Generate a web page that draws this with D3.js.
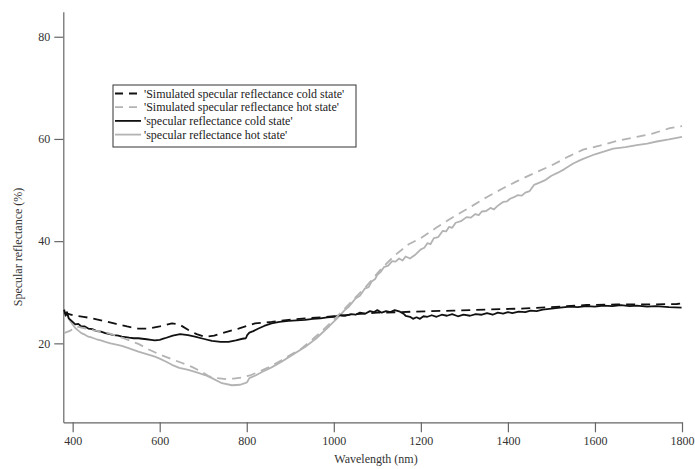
<!DOCTYPE html>
<html>
<head>
<meta charset="utf-8">
<script src="https://cdn.jsdelivr.net/npm/d3@7"></script>
<style>
  body { margin: 0; background: #fff; }
  svg text { font-family: "Liberation Serif", "Times New Roman", serif; }
</style>
</head>
<body>
<div id="chart"></div>
<script>
// wavelength (nm) / reflectance (%)
const simColdNm  = [380, 400, 425, 450, 475, 500, 525, 550, 575, 600, 628, 645, 666, 685, 704, 725, 743, 760, 781, 800, 819, 857, 896, 934, 970, 1000, 1050, 1100, 1150, 1182, 1274, 1350, 1428, 1500, 1581, 1650, 1700, 1788, 1800];
const simColdVal = [26.0, 25.5, 25.2, 24.8, 24.3, 23.8, 23.3, 22.9, 22.9, 23.3, 23.9, 23.7, 22.6, 21.8, 21.3, 21.5, 22.0, 22.4, 22.9, 23.4, 23.9, 24.2, 24.6, 24.9, 25.1, 25.3, 25.7, 26.0, 26.1, 26.2, 26.4, 26.6, 26.8, 27.1, 27.5, 27.6, 27.6, 27.7, 27.8];

const simHotNm  = [380, 395, 410, 425, 450, 471, 500, 517, 551, 575, 600, 628, 650, 674, 695, 712, 730, 754, 770, 789, 810, 827, 850, 880, 900, 926, 950, 975, 1000, 1025, 1050, 1075, 1110, 1140, 1172, 1200, 1235, 1266, 1300, 1320, 1351, 1390, 1420, 1460, 1500, 1540, 1573, 1611, 1650, 1696, 1734, 1772, 1800];
const simHotVal = [22.0, 22.5, 23.3, 23.0, 22.5, 22.3, 21.5, 21.0, 19.9, 18.8, 17.8, 16.9, 16.2, 15.4, 14.5, 13.6, 13.2, 13.0, 13.1, 13.3, 13.8, 14.4, 15.3, 16.7, 17.7, 19.0, 20.7, 22.6, 24.6, 26.8, 29.0, 31.2, 34.7, 37.2, 39.4, 40.6, 42.6, 44.3, 46.0, 47.0, 48.6, 50.4, 51.7, 53.3, 54.8, 56.6, 57.9, 58.7, 59.6, 60.4, 61.1, 62.1, 62.5];

const coldNm  = [380, 384, 387, 391, 395, 400, 406, 413, 420, 428, 436, 445, 455, 465, 475, 485, 495, 505, 513, 522, 530, 540, 551, 560, 570, 580, 589, 600, 612, 630, 647, 665, 681, 700, 720, 740, 758, 775, 790, 798, 801, 806, 815, 827, 840, 857, 875, 896, 915, 934, 952, 969, 985, 1000, 1014, 1027, 1040, 1050, 1060, 1072, 1083, 1092, 1100, 1110, 1120, 1130, 1140, 1152, 1160, 1165, 1175, 1182, 1190, 1198, 1206, 1215, 1225, 1236, 1248, 1260, 1272, 1285, 1298, 1313, 1326, 1340, 1352, 1365, 1377, 1389, 1400, 1410, 1425, 1440, 1452, 1466, 1480, 1500, 1520, 1543, 1560, 1580, 1600, 1619, 1640, 1660, 1680, 1696, 1720, 1740, 1770, 1799];
const coldVal = [26.6, 25.4, 26.1, 24.9, 24.6, 24.2, 23.7, 23.8, 23.3, 23.3, 22.9, 22.8, 22.4, 22.3, 22.0, 21.8, 21.6, 21.5, 21.3, 21.2, 21.1, 21.0, 21.0, 20.9, 20.8, 20.7, 20.6, 20.7, 21.0, 21.5, 21.8, 21.6, 21.3, 20.9, 20.5, 20.3, 20.3, 20.6, 20.9, 21.0, 21.6, 22.1, 22.4, 22.9, 23.4, 23.9, 24.2, 24.4, 24.5, 24.6, 24.8, 24.9, 25.1, 25.2, 25.5, 25.4, 25.7, 25.6, 26.0, 25.8, 26.3, 26.1, 26.5, 26.0, 26.3, 26.1, 26.5, 26.2, 25.8, 25.4, 25.2, 24.8, 25.1, 24.8, 25.3, 25.2, 25.5, 25.2, 25.6, 25.4, 25.7, 25.3, 25.6, 25.4, 25.7, 25.6, 25.9, 25.6, 26.0, 25.8, 26.1, 25.9, 26.2, 26.1, 26.4, 26.3, 26.6, 26.8, 27.0, 27.2, 27.1, 27.3, 27.2, 27.4, 27.3, 27.5, 27.3, 27.4, 27.2, 27.3, 27.1, 27.0];

const hotNm  = [380, 384, 387, 391, 395, 400, 406, 413, 420, 428, 436, 445, 455, 465, 475, 487, 498, 513, 530, 551, 570, 589, 600, 615, 628, 645, 666, 685, 704, 720, 743, 766, 785, 796, 801, 806, 820, 835, 857, 880, 900, 934, 960, 990, 1010, 1024, 1035, 1050, 1060, 1071, 1080, 1087, 1095, 1100, 1108, 1115, 1125, 1134, 1142, 1150, 1158, 1165, 1175, 1188, 1200, 1208, 1215, 1222, 1230, 1240, 1250, 1258, 1265, 1272, 1280, 1292, 1305, 1315, 1325, 1333, 1340, 1350, 1360, 1368, 1375, 1383, 1390, 1398, 1405, 1414, 1422, 1432, 1440, 1450, 1460, 1474, 1487, 1500, 1515, 1530, 1550, 1570, 1600, 1620, 1642, 1670, 1696, 1720, 1742, 1770, 1800];
const hotVal = [26.8, 25.9, 26.0, 24.8, 24.3, 23.7, 23.0, 22.5, 22.0, 21.7, 21.3, 21.1, 20.8, 20.6, 20.3, 20.0, 19.8, 19.5, 19.0, 18.4, 17.9, 17.4, 17.0, 16.4, 15.8, 15.2, 14.8, 14.3, 13.8, 13.2, 12.2, 11.8, 11.9, 12.2, 12.4, 13.2, 13.7, 14.4, 15.3, 16.4, 17.5, 19.3, 21.0, 23.4, 25.1, 26.4, 27.2, 28.8, 29.3, 30.7, 31.0, 32.1, 32.6, 33.4, 34.0, 34.9, 35.2, 36.1, 36.0, 36.6, 36.2, 37.0, 36.6, 37.4, 38.4, 38.7, 39.6, 39.4, 40.6, 40.8, 42.0, 41.9, 42.8, 42.6, 43.6, 43.9, 44.7, 44.6, 45.3, 45.1, 45.8, 45.9, 46.5, 46.2, 46.8, 47.3, 47.7, 47.8, 48.3, 48.6, 49.0, 48.9, 49.5, 49.8, 51.0, 51.5, 52.0, 52.8, 53.4, 54.1, 55.2, 56.0, 57.0, 57.5, 58.1, 58.4, 58.8, 59.1, 59.5, 59.9, 60.4];

const xTicks = [400, 600, 800, 1000, 1200, 1400, 1600, 1800];
const yTicks = [20, 40, 60, 80];

const series = [
  { name: "'Simulated specular reflectance cold state'", nm: simColdNm, val: simColdVal, color: "#111", dash: "9,6" },
  { name: "'Simulated specular reflectance hot state'",  nm: simHotNm,  val: simHotVal,  color: "#b3b3b3", dash: "9,6" },
  { name: "'specular reflectance cold state'",           nm: coldNm,    val: coldVal,    color: "#111", dash: null },
  { name: "'specular reflectance hot state'",            nm: hotNm,     val: hotVal,     color: "#b3b3b3", dash: null }
];

const width = 695, height = 469;

const svg = d3.select("#chart")
  .append("svg")
  .attr("width", width)
  .attr("height", height);

const x = d3.scaleLinear().domain([378.5, 1800]).range([63.3, 682]);
const y = d3.scaleLinear().domain([4.55, 84.9]).range([422.3, 11.7]);

// axes
const xAxis = svg.append("g")
  .attr("transform", `translate(0,${y.range()[0]})`)
  .call(d3.axisBottom(x).tickValues(xTicks).tickFormat(d3.format("d"))
    .tickSize(10).tickSizeOuter(0).tickPadding(4));
const yAxis = svg.append("g")
  .attr("transform", `translate(${x.range()[0]},0)`)
  .call(d3.axisLeft(y).tickValues(yTicks).tickFormat(d3.format("d"))
    .tickSize(9).tickSizeOuter(0).tickPadding(4));

[xAxis, yAxis].forEach(g => {
  g.select(".domain").attr("stroke", "#666").attr("stroke-width", 1.2);
  g.selectAll(".tick line").attr("stroke", "#666").attr("stroke-width", 1.2);
  g.selectAll(".tick text")
    .attr("fill", "#333")
    .style("font-size", "12px")
    .style("font-family", "Liberation Serif, serif");
});

svg.append("text")
  .attr("x", 376)
  .attr("y", 463)
  .attr("text-anchor", "middle")
  .attr("fill", "#333")
  .style("font-size", "12px")
  .text("Wavelength (nm)");

svg.append("text")
  .attr("transform", "translate(22,247) rotate(-90)")
  .attr("text-anchor", "middle")
  .attr("fill", "#333")
  .style("font-size", "12px")
  .text("Specular reflectance (%)");

// curves
const line = d3.line()
  .x(d => x(d[0]))
  .y(d => y(d[1]));

const plot = svg.append("g");
series.slice().reverse().forEach(s => {
  plot.append("path")
    .datum(s.nm.map((v, i) => [v, s.val[i]]))
    .attr("fill", "none")
    .attr("stroke", s.color)
    .attr("stroke-width", 1.8)
    .attr("stroke-linejoin", "round")
    .attr("stroke-dasharray", s.dash)
    .attr("d", line);
});

// legend
const legend = svg.append("g").attr("transform", "translate(113,85)");
legend.append("rect")
  .attr("x", 0).attr("y", 0)
  .attr("width", 243).attr("height", 62)
  .attr("fill", "#fff")
  .attr("stroke", "#333")
  .attr("stroke-width", 1);

const rows = legend.selectAll("g.row")
  .data(series)
  .join("g")
  .attr("class", "row")
  .attr("transform", (d, i) => `translate(0,${8.5 + i * 13.7})`);

rows.append("line")
  .attr("x1", 2).attr("x2", 28)
  .attr("stroke", d => d.color)
  .attr("stroke-width", 1.8)
  .attr("stroke-dasharray", d => d.dash ? "8,6" : null);

rows.append("text")
  .attr("x", 31)
  .attr("dy", "0.35em")
  .attr("fill", "#222")
  .style("font-size", "12px")
  .text(d => d.name);
</script>
</body>
</html>
